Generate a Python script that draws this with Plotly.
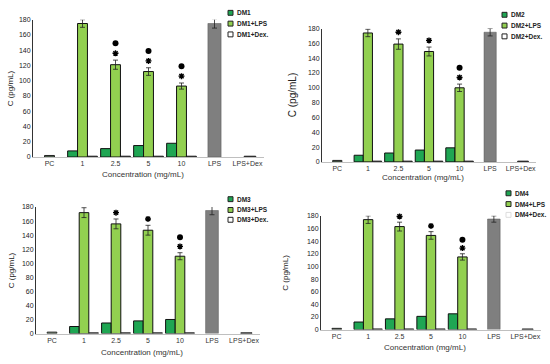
import plotly.graph_objects as go

# ---------------- data ----------------
categories = ["PC", "1", "2.5", "5", "10", "LPS", "LPS+Dex"]
conc_labels = ["1", "2.5", "5", "10"]
series_names = ["DM1", "DM2", "DM3", "DM4"]

dm1 = [8, 11, 15, 18]
dm1_lps = [175, 121, 112, 93]
dm1_lps_err = [5, 6, 5, 4]
dm1_dex = [1, 1, 1, 1]

dm2 = [9, 12, 16, 19]
dm2_lps = [174, 159, 149, 100]
dm2_lps_err = [5, 7, 6, 5]
dm2_dex = [1, 1, 1, 1]

dm3 = [10, 15, 18, 20]
dm3_lps = [172, 156, 147, 110]
dm3_lps_err = [7, 7, 7, 5]
dm3_dex = [1, 1, 1, 1]

dm4 = [12, 17, 21, 25]
dm4_lps = [174, 163, 149, 115]
dm4_lps_err = [6, 7, 6, 5]
dm4_dex = [1, 1, 1, 1]

pc_vals = [2, 2, 2, 2]
lps_ctrl = [175, 175, 175, 175]
lps_ctrl_err = [6, 5, 6, 5]
lpsdex_vals = [1, 1, 1, 1]

# significance marks over LPS bars: star / dot  (per concentration)
star_flags = [[1, 1, 1, 1], [1, 1, 1, 1], [1, 1, 1, 1], [1, 1, 1, 1]]
dot_flags = [[0, 1, 1, 1], [0, 0, 0, 1], [0, 0, 0, 1], [0, 0, 0, 1]]
lps_ctrl_star = [1, 1, 1, 1]

y_ticks = [0, 20, 40, 60, 80, 100, 120, 140, 160, 180]

dm_all = [dm1, dm2, dm3, dm4]
lps_all = [dm1_lps, dm2_lps, dm3_lps, dm4_lps]
err_all = [dm1_lps_err, dm2_lps_err, dm3_lps_err, dm4_lps_err]
dex_all = [dm1_dex, dm2_dex, dm3_dex, dm4_dex]

# ---------------- layout (pixels) ----------------
W, H = 550, 364
panels = [
    dict(x=(33, 264), y=(16, 156), ytitle_x=10, ytitle_size=8, xtitle_y=174, legx=228, legy=(9, 20, 31)),
    dict(x=(322, 536), y=(25, 161), ytitle_x=292, ytitle_size=10, xtitle_y=177, legx=502, legy=(11, 22, 33)),
    dict(x=(36, 260), y=(207, 336), ytitle_x=11, ytitle_size=8, xtitle_y=355, legx=228, legy=(199, 210, 220)),
    dict(x=(321, 541), y=(216, 332), ytitle_x=286, ytitle_size=8, xtitle_y=350, legx=506, legy=(193, 204, 215)),
]

DM_COLOR = "#1fa653"
LPS_COLOR = "#92d050"
GRAY = "#7f7f7f"
FONT = "Liberation Sans Narrow, Liberation Sans, Arial"

def px(xp):
    return xp / W

def py(yp):
    return 1 - yp / H

fig = go.Figure()
shapes = []
annotations = []

for i in range(4):
    p = panels[i]
    xa = "x" if i == 0 else f"x{i+1}"
    ya = "y" if i == 0 else f"y{i+1}"
    common = dict(xaxis=xa, yaxis=ya, showlegend=False, hoverinfo="skip")
    bw = 0.3
    # concentration bars
    fig.add_trace(go.Bar(x=conc_labels, y=dm_all[i], width=bw, offset=-0.45,
                         marker=dict(color=DM_COLOR, line=dict(color="#111", width=1)), **common))
    fig.add_trace(go.Bar(x=conc_labels, y=lps_all[i], width=bw, offset=-0.15,
                         marker=dict(color=LPS_COLOR, line=dict(color="#111", width=1)),
                         error_y=dict(type="data", array=err_all[i], color="#222", thickness=0.8, width=2.5),
                         **common))
    fig.add_trace(go.Bar(x=conc_labels, y=dex_all[i], width=bw, offset=0.15,
                         marker=dict(color="white", line=dict(color="#111", width=1)), **common))
    # control bars
    fig.add_trace(go.Bar(x=["PC"], y=[pc_vals[i]], width=bw, offset=-0.15,
                         marker=dict(color="#6f8f6f", line=dict(color="#222", width=1)), **common))
    fig.add_trace(go.Bar(x=["LPS"], y=[lps_ctrl[i]], width=0.4, offset=-0.2,
                         marker=dict(color=GRAY, line=dict(color="#555", width=0.5)),
                         error_y=dict(type="data", array=[lps_ctrl_err[i]], color="#222", thickness=0.8, width=2.5),
                         **common))
    fig.add_trace(go.Bar(x=["LPS+Dex"], y=[lpsdex_vals[i]], width=0.35, offset=-0.1,
                         marker=dict(color="#555", line=dict(color="#222", width=1)), **common))
    # significance markers
    sx, sy, dx, dy = [], [], [], []
    for k, c in enumerate(conc_labels):
        top = lps_all[i][k] + err_all[i][k]
        if star_flags[i][k]:
            sx.append(c); sy.append(top + 9)
        if dot_flags[i][k]:
            dx.append(c); dy.append(top + 22)
    if lps_ctrl_star[i]:
        sx.append("LPS"); sy.append(lps_ctrl[i] + lps_ctrl_err[i] + 9)
    fig.add_trace(go.Scatter(x=sx, y=sy, mode="markers", cliponaxis=False,
                             marker=dict(symbol="asterisk", size=5, color="black",
                                         line=dict(color="black", width=1.4)), **common))
    fig.add_trace(go.Scatter(x=dx, y=dy, mode="markers", cliponaxis=False,
                             marker=dict(symbol="circle", size=6, color="black"), **common))

    xdom = [px(p["x"][0]), px(p["x"][1])]
    ydom = [py(p["y"][1]), py(p["y"][0])]
    xkey = "xaxis" if i == 0 else f"xaxis{i+1}"
    ykey = "yaxis" if i == 0 else f"yaxis{i+1}"
    fig.update_layout(**{
        xkey: dict(domain=xdom, anchor=ya, type="category", categoryorder="array",
                   categoryarray=categories, range=[-0.5, 6.5], showline=True,
                   linecolor="#bfbfbf", linewidth=1, ticks="", showgrid=False,
                   tickfont=dict(size=7, family=FONT, color="#333"), zeroline=False),
        ykey: dict(domain=ydom, anchor=xa, range=[0, 180], tickvals=y_ticks,
                   showline=True, linecolor="#333", linewidth=1, ticks="",
                   showgrid=False, zeroline=False,
                   tickfont=dict(size=7, family=FONT, color="#222")),
    })
    # axis titles
    xc = (p["x"][0] + p["x"][1]) / 2 - 6
    annotations.append(dict(text="Concentration (mg/mL)", x=px(xc), y=py(p["xtitle_y"]),
                            xref="paper", yref="paper", showarrow=False,
                            xanchor="center", yanchor="middle",
                            font=dict(size=8, family=FONT, color="#333")))
    yc = (p["y"][0] + p["y"][1]) / 2
    annotations.append(dict(text="C (pg/mL)", x=px(p["ytitle_x"]), y=py(yc),
                            xref="paper", yref="paper", showarrow=False, textangle=-90,
                            xanchor="center", yanchor="middle",
                            font=dict(size=p["ytitle_size"], family=FONT, color="#222")))
    # manual legend
    leg_items = [(series_names[i], DM_COLOR, "#222"),
                 (series_names[i] + "+LPS", LPS_COLOR, "#222"),
                 (series_names[i] + "+Dex.", "white", "#222" if i < 3 else "#ddd")]
    for (name, fill, edge), ly in zip(leg_items, p["legy"]):
        shapes.append(dict(type="rect", xref="paper", yref="paper",
                           x0=px(p["legx"]), x1=px(p["legx"] + 5),
                           y0=py(ly + 2.5), y1=py(ly - 2.5),
                           fillcolor=fill, line=dict(color=edge, width=1)))
        annotations.append(dict(text="<b>" + name + "</b>", x=px(p["legx"] + 6.5), y=py(ly),
                                xref="paper", yref="paper", xanchor="left", yanchor="middle",
                                showarrow=False,
                                font=dict(size=6.5, family=FONT, color="#222")))

fig.update_layout(width=W, height=H, margin=dict(l=0, r=0, t=0, b=0),
                  paper_bgcolor="white", plot_bgcolor="white", barmode="overlay",
                  shapes=shapes, annotations=annotations, showlegend=False)

fig.write_html("out.html", config={"displayModeBar": False},
               post_script="document.body.style.margin='0px';")
